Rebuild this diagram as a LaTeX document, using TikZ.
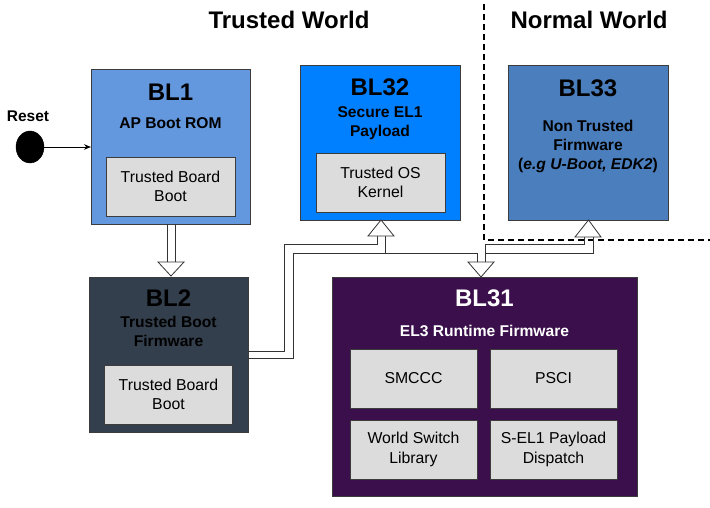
\documentclass[tikz,border=0pt]{standalone}
\usepackage{fontspec}
\setmainfont{Liberation Sans}
\usetikzlibrary{arrows.meta,shapes.geometric}
\definecolor{bordc}{HTML}{3C3C3C}
\definecolor{innerc}{HTML}{DCDCDC}
\definecolor{blonec}{HTML}{6498DE}
\definecolor{bltwoc}{HTML}{333F4C}
\definecolor{blttwoc}{HTML}{007FFF}
\definecolor{bltthreec}{HTML}{4A7EBD}
\definecolor{bltonec}{HTML}{3A0F4B}
\definecolor{arrc}{HTML}{333333}
\begin{document}
\begin{tikzpicture}[x=1pt,y=-1pt,
  box/.style={draw=bordc, line width=0.8pt, inner sep=0pt, outer sep=0pt, minimum width=159pt, minimum height=155pt},
  inbox/.style={draw=bordc, fill=innerc, line width=0.8pt, align=center, inner sep=0pt, outer sep=0pt,
     minimum width=128pt, minimum height=59pt, font=\fontsize{15.8}{19.5}\selectfont},
  worldlbl/.style={font=\bfseries\fontsize{24}{28}\selectfont, inner sep=0pt},
  biglbl/.style={font=\bfseries\fontsize{24}{28}\selectfont, inner sep=0pt},
  sublbl/.style={font=\bfseries\fontsize{15.6}{19}\selectfont, align=center, inner sep=0pt},
  shaft/.style={draw=arrc, line width=0.8pt, line join=miter},
  hollowhead/.style={draw=arrc, fill=white, line width=0.8pt, line join=miter}]
\useasboundingbox (0,0) rectangle (710,508);

% world titles and separator
\node[worldlbl] (tw) at (289,20) {Trusted World};
\node[worldlbl] (nw) at (589,20) {Normal World};
\draw[line width=1.3pt, dash pattern=on 6pt off 4pt] (484,4) -- (484,240) -- (710,240);

% Reset
\node[inner sep=0pt, font=\bfseries\fontsize{15.5}{18}\selectfont] (resetlbl) at (28,116) {Reset};
\node[ellipse, fill=black, draw=black, minimum width=28pt, minimum height=32pt, inner sep=0pt] (reset) at (30,147) {};

% BL1
\node[box, fill=blonec] (bl1) at (170.5,146.5) {};
\node[biglbl] (bl1t) at (170.5,92) {BL1};
\node[sublbl] (bl1s) at (170.5,123) {AP Boot ROM};
\node[inbox, minimum width=129pt] (bl1i) at (170.5,186.5) {Trusted Board\\Boot};
\draw[line width=0.9pt, -{Stealth[length=7pt,width=5.5pt]}] (reset.east) -- (reset -| bl1.west);

% BL2
\node[box, fill=bltwoc] (bl2) at (168.5,354.5) {};
\node[biglbl] (bl2t) at (168.5,298) {BL2};
\node[sublbl] (bl2s) at (168.5,331) {Trusted Boot\\Firmware};
\node[inbox] (bl2i) at (168.5,394.5) {Trusted Board\\Boot};

% BL32
\node[box, fill=blttwoc, minimum width=160pt] (bl32) at (380,142.5) {};
\node[biglbl] (bl32t) at (380,87) {BL32};
\node[sublbl] (bl32s) at (380,123) {Secure EL1\\Payload};
\node[inbox, minimum width=129pt] (bl32i) at (380.5,182.5) {Trusted OS\\Kernel};

% BL33
\node[box, fill=bltthreec, minimum width=160pt] (bl33) at (588,142.5) {};
\node[biglbl] (bl33t) at (588,88) {BL33};
\node[sublbl] (bl33s) at (588,146.5) {Non Trusted\\Firmware\\(\textit{e.g U-Boot, EDK2})};

% BL31
\node[box, fill=bltonec, minimum width=305pt, minimum height=219pt] (bl31) at (484.5,386.5) {};
\node[biglbl, text=white] (bl31t) at (484.5,298) {BL31};
\node[sublbl, text=white] (bl31s) at (484.5,331) {EL3 Runtime Firmware};
\node[inbox, minimum width=127pt] (smccc) at (413.5,378.5) {SMCCC};
\node[inbox, minimum width=127pt] (psci) at (553.5,378.5) {PSCI};
\node[inbox, minimum width=127pt] (wsl) at (413.5,449.5) {World Switch\\Library};
\node[inbox, minimum width=127pt] (spd) at (553.5,449.5) {S-EL1 Payload\\Dispatch};

% hollow arrow BL1 -> BL2
\draw[shaft] (bl1.south -| 167,0) -- (167,262);
\draw[shaft] (bl1.south -| 175,0) -- (175,262);
\draw[hollowhead] (158,262) -- (184,262) -- (171,276) -- cycle;

% hollow bus from BL2 to BL32, BL31, BL33
\coordinate (busa) at (bl2.east |- 0,351);
\coordinate (busb) at (bl2.east |- 0,358);
\draw[shaft] (busa) -- (284,351) -- (284,244) -- (377,244) -- (377,236);
\draw[shaft] (busb) -- (293,358) -- (293,253) -- (477,253) -- (477,262);
\draw[shaft] (385,236) -- (385,253);
\draw[shaft] (485,262) -- (485,244) -- (584,244) -- (584,237);
\draw[shaft] (593,237) -- (593,253) -- (485,253);
\draw[hollowhead] (368,236) -- (394,236) -- (bl32.south -| 381,0) -- cycle;
\draw[hollowhead] (468,262) -- (494,262) -- (bl31.north -| 481,0) -- cycle;
\draw[hollowhead] (575,237) -- (601,237) -- (bl33.south -| 588.5,0) -- cycle;
\end{tikzpicture}
\end{document}
